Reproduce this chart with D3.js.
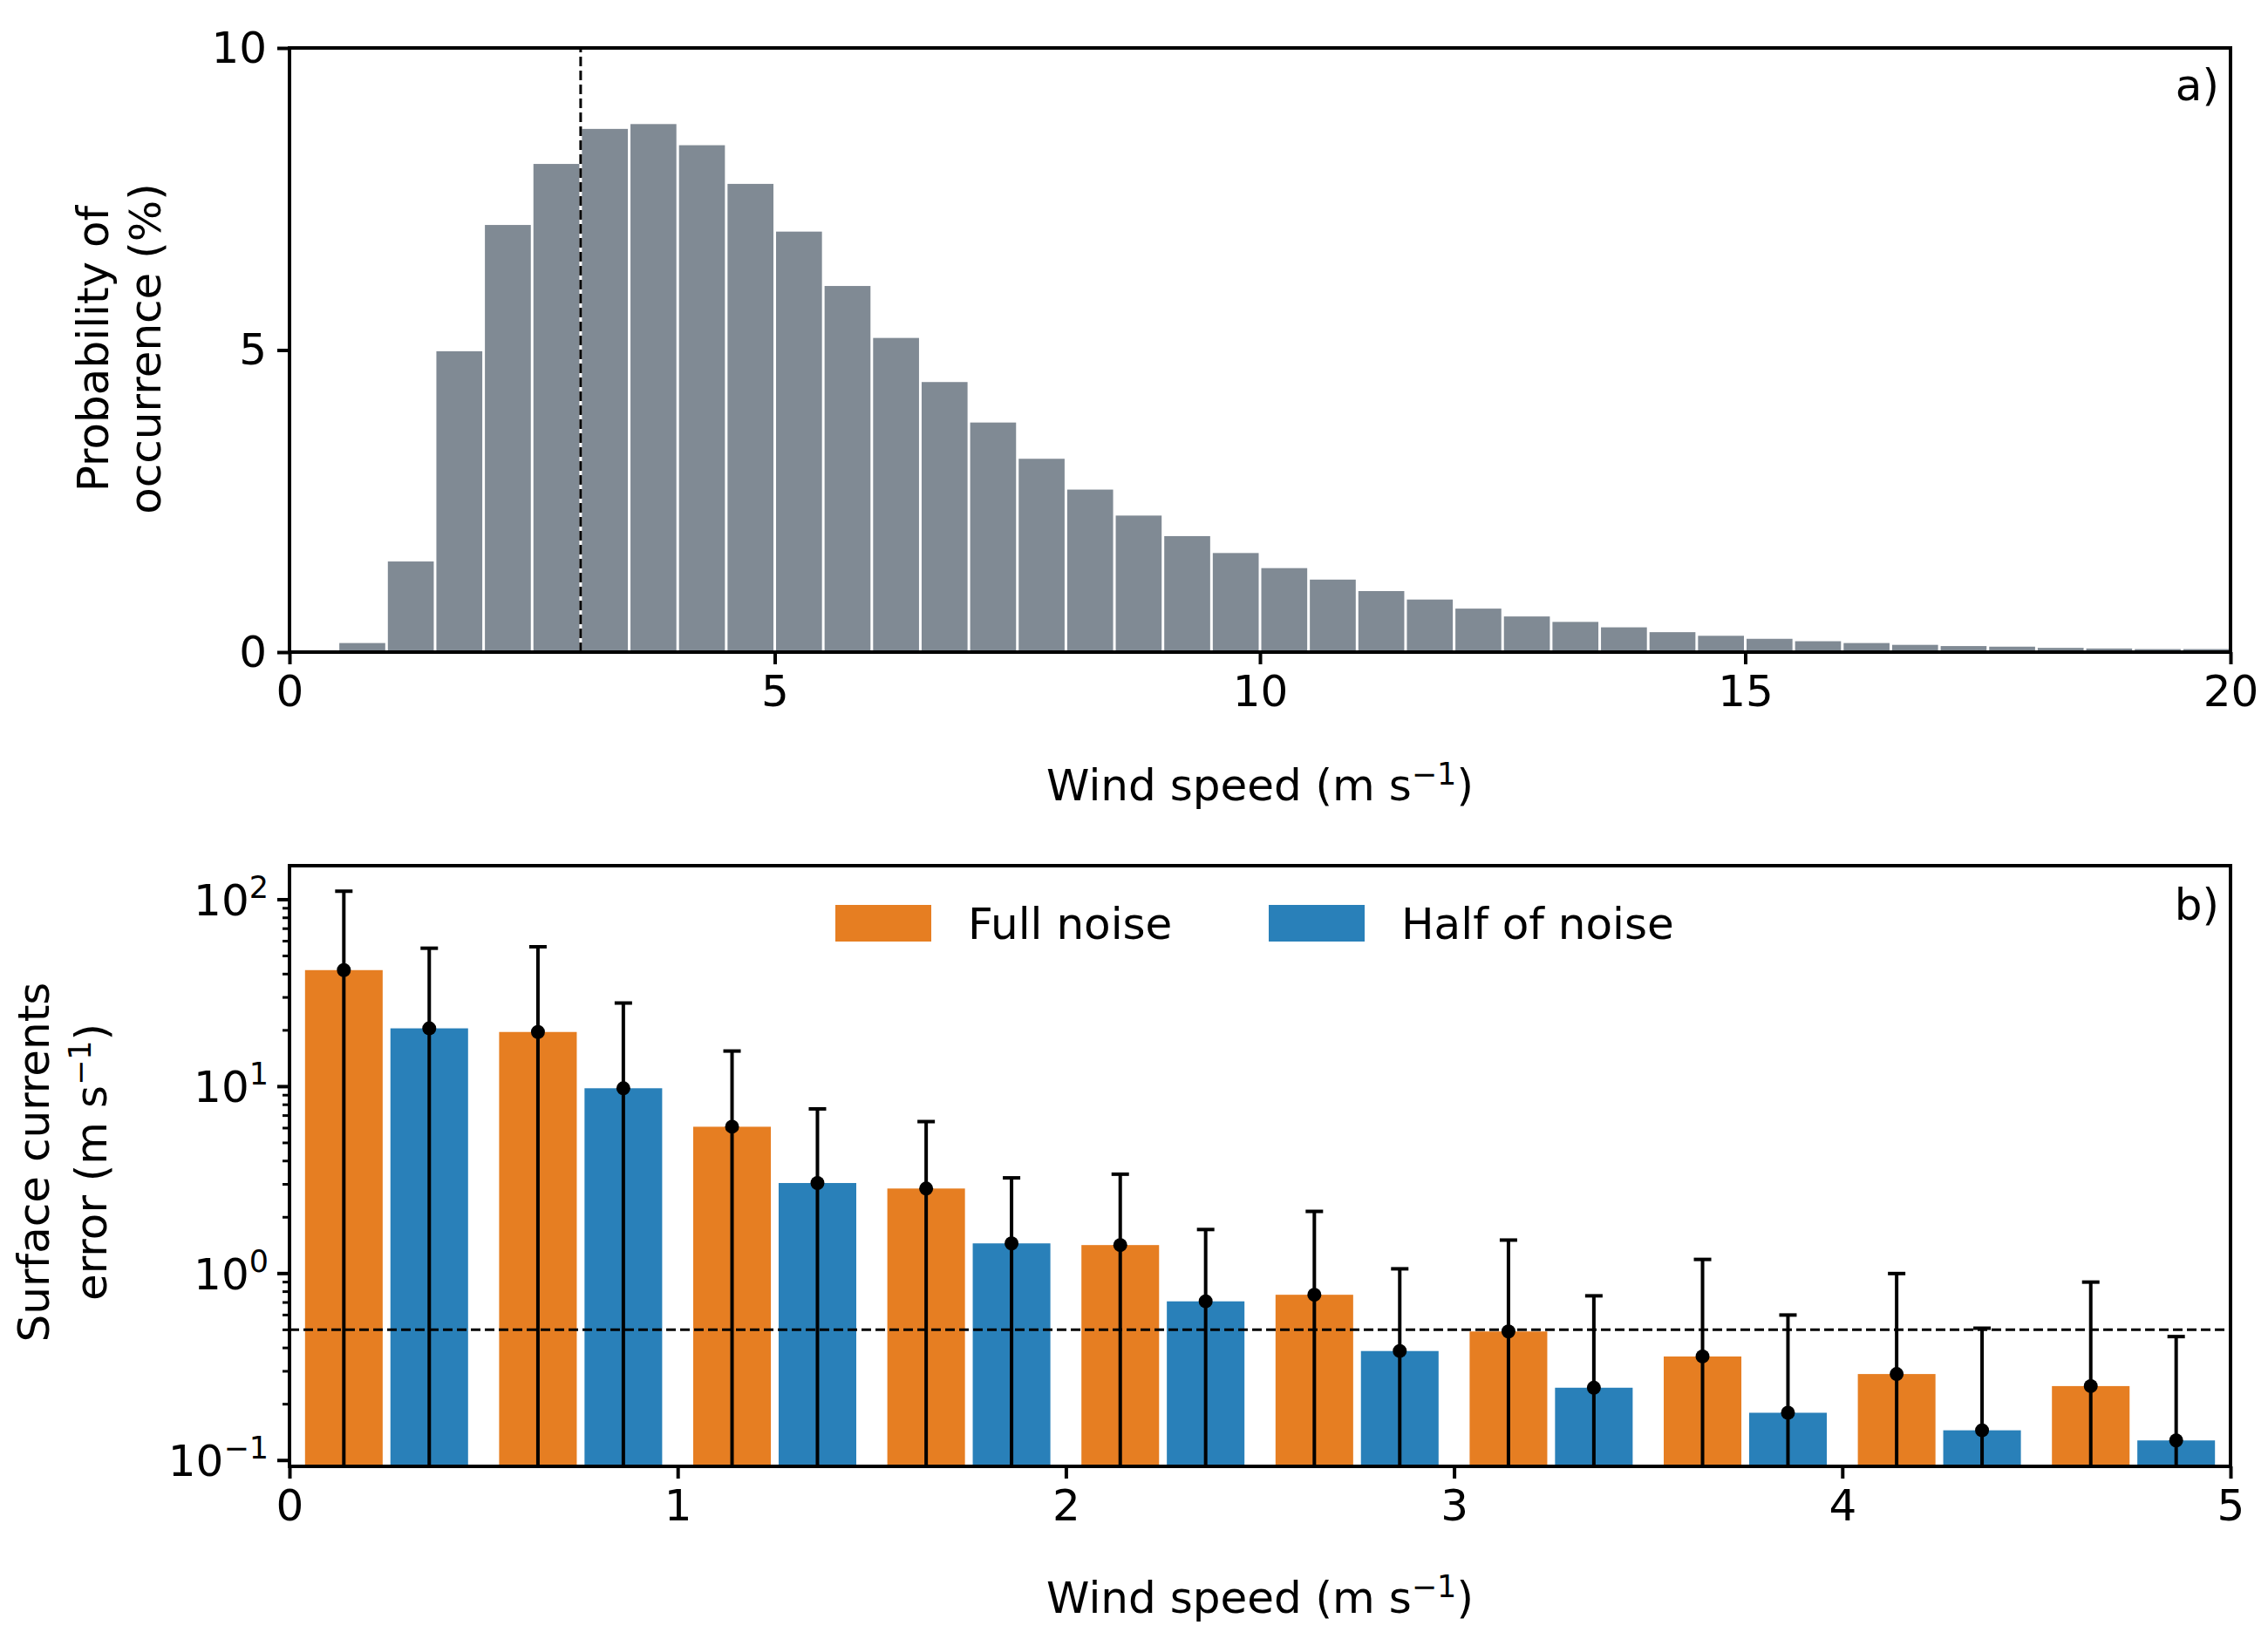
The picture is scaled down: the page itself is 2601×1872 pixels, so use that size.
<!DOCTYPE html><html><head><meta charset="utf-8">
<script src="https://cdn.jsdelivr.net/npm/d3@7"></script>
<style>body{margin:0;background:#fff}svg{font-family:"DejaVu Sans";}</style></head><body>
<svg id="c" width="2601" height="1872"></svg>
<script>
const binStarts = d3.range(0,20,0.5);
const probValues = [0.03,0.15,1.5,4.98,7.07,8.08,8.66,8.74,8.39,7.75,6.96,6.06,5.2,4.47,3.8,3.2,2.69,2.26,1.92,1.64,1.39,1.2,1.01,0.87,0.72,0.59,0.5,0.41,0.33,0.27,0.22,0.18,0.15,0.12,0.1,0.09,0.07,0.06,0.05,0.05];
const groupStarts = [0,0.5,1,1.5,2,2.5,3,3.5,4,4.5];
const fullNoise = [42,19.6,6.1,2.85,1.42,0.77,0.49,0.36,0.29,0.25];
const fullNoiseUpper = [111,56,15.5,6.5,3.4,2.15,1.51,1.19,1.0,0.9];
const halfNoise = [20.5,9.8,3.05,1.45,0.71,0.385,0.245,0.18,0.145,0.128];
const halfNoiseUpper = [55,28,7.6,3.25,1.72,1.06,0.76,0.6,0.51,0.46];
const yTicksA = [0,5,10], xTicksA = [0,5,10,15,20];
const yTicksB = [-1,0,1,2], xTicksB = [0,1,2,3,4,5];

const svg = d3.select("#c");
const FS = 50, SUP = 35;
const L=332,R=2558;
// Panel a
const xa = d3.scaleLinear().domain([0,20]).range([L,R]);
const ya = d3.scaleLinear().domain([0,10]).range([748,55]);
const ga = svg.append("g");
ga.selectAll("rect").data(probValues).join("rect")
 .attr("x",(d,i)=>xa(binStarts[i])+1.5).attr("width",(d,i)=>xa(binStarts[i]+0.5)-xa(binStarts[i])-3)
 .attr("y",d=>ya(d)).attr("height",d=>ya(0)-ya(d)).attr("fill","#808a94");
ga.append("line").attr("x1",xa(3)).attr("x2",xa(3)).attr("y1",ya(0)).attr("y2",ya(10))
 .attr("stroke","#000").attr("stroke-width",3).attr("stroke-dasharray","11,5");
ga.append("rect").attr("x",L).attr("y",ya(10)).attr("width",R-L).attr("height",ya(0)-ya(10)).attr("fill","none").attr("stroke","#000").attr("stroke-width",4);
const axA = svg.append("g").attr("transform",`translate(0,${ya(0)})`).call(d3.axisBottom(xa).tickValues(xTicksA).tickSize(14).tickPadding(12));
const ayA = svg.append("g").attr("transform",`translate(${L},0)`).call(d3.axisLeft(ya).tickValues(yTicksA).tickSize(14).tickPadding(12));
[axA,ayA].forEach(a=>{a.select(".domain").remove();a.selectAll("line").attr("stroke-width",4);a.selectAll("text").attr("font-size",FS).attr("font-family","DejaVu Sans").attr("fill","#000");});
svg.append("text").attr("x",2545).attr("y",115).attr("text-anchor","end").attr("font-size",FS).text("a)");
function xlabel(y){const t=svg.append("text").attr("x",(L+R)/2).attr("y",y).attr("text-anchor","middle").attr("font-size",FS);
 t.append("tspan").text("Wind speed (m s");t.append("tspan").attr("dy",-18).attr("font-size",SUP).text("−1");t.append("tspan").attr("dy",18).text(")");}
xlabel(918);
const la = svg.append("text").attr("transform","translate(0,400) rotate(-90)").attr("text-anchor","middle").attr("font-size",FS);
la.append("tspan").attr("x",0).attr("y",124).text("Probability of");
la.append("tspan").attr("x",0).attr("y",184).text("occurrence (%)");

// Panel b
const T=993,B=1682;
const xb = d3.scaleLinear().domain([0,5]).range([L,R]);
const yb = d3.scaleLog().domain([0.093,152]).range([B,T]);
svg.append("clipPath").attr("id","cb").append("rect").attr("x",L).attr("y",T).attr("width",R-L).attr("height",B-T);
const gb = svg.append("g").attr("clip-path","url(#cb)");
const series=[{v:fullNoise,u:fullNoiseUpper,off:0.14,c:"#e67e22"},{v:halfNoise,u:halfNoiseUpper,off:0.36,c:"#2980b9"}];
series.forEach(s=>{
 gb.selectAll(null).data(s.v).join("rect").attr("x",(d,i)=>xb(groupStarts[i]+s.off-0.1)).attr("width",xb(0.2)-xb(0))
  .attr("y",d=>yb(d)).attr("height",d=>B+20-yb(d)).attr("fill",s.c);
});
gb.append("line").attr("x1",L).attr("x2",R).attr("y1",yb(0.5)).attr("y2",yb(0.5)).attr("stroke","#000").attr("stroke-width",3).attr("stroke-dasharray","11,5");
series.forEach(s=>{
 s.v.forEach((d,i)=>{const cx=xb(groupStarts[i]+s.off);
  gb.append("line").attr("x1",cx).attr("x2",cx).attr("y1",yb(s.u[i])).attr("y2",B+20).attr("stroke","#000").attr("stroke-width",4);
  gb.append("line").attr("x1",cx-10).attr("x2",cx+10).attr("y1",yb(s.u[i])).attr("y2",yb(s.u[i])).attr("stroke","#000").attr("stroke-width",4);
  gb.append("circle").attr("cx",cx).attr("cy",yb(d)).attr("r",8).attr("fill","#000");});
});
svg.append("rect").attr("x",L).attr("y",T).attr("width",R-L).attr("height",B-T).attr("fill","none").attr("stroke","#000").attr("stroke-width",4);
const axB = svg.append("g").attr("transform",`translate(0,${B})`).call(d3.axisBottom(xb).tickValues(xTicksB).tickFormat(d3.format("d")).tickSize(14).tickPadding(12));
axB.select(".domain").remove();axB.selectAll("line").attr("stroke-width",4);axB.selectAll("text").attr("font-size",FS).attr("font-family","DejaVu Sans").attr("fill","#000");
const minor=[];[-2,-1,0,1,2].forEach(e=>{for(let k=2;k<10;k++){const v=k*Math.pow(10,e);if(v>0.093&&v<152)minor.push(v);}});
const gy=svg.append("g");
gy.selectAll(".mn").data(minor).join("line").attr("x1",L).attr("x2",L-8).attr("y1",d=>yb(d)).attr("y2",d=>yb(d)).attr("stroke","#000").attr("stroke-width",3);
yTicksB.forEach(e=>{const y=yb(Math.pow(10,e));
 gy.append("line").attr("x1",L).attr("x2",L-14).attr("y1",y).attr("y2",y).attr("stroke","#000").attr("stroke-width",4);
 const t=gy.append("text").attr("x",L-24).attr("y",y+18).attr("text-anchor","end").attr("font-size",FS);
 t.append("tspan").text("10");t.append("tspan").attr("dy",-20).attr("font-size",SUP).text(e<0?"−"+(-e):String(e));});
svg.append("text").attr("x",2545).attr("y",1055).attr("text-anchor","end").attr("font-size",FS).text("b)");
const leg=[["Full noise","#e67e22",958],["Half of noise","#2980b9",1455]];
leg.forEach(l=>{svg.append("rect").attr("x",l[2]).attr("y",1038).attr("width",110).attr("height",42).attr("fill",l[1]);
 svg.append("text").attr("x",l[2]+152).attr("y",1077).attr("font-size",FS).text(l[0]);});
xlabel(1850);
const lb = svg.append("text").attr("transform","translate(0,1333) rotate(-90)").attr("text-anchor","middle").attr("font-size",FS);
lb.append("tspan").attr("x",0).attr("y",56).text("Surface currents");
lb.append("tspan").attr("x",0).attr("y",122).text("error (m s");
lb.append("tspan").attr("dy",-18).attr("font-size",SUP).text("−1");lb.append("tspan").attr("dy",18).text(")");
</script></body></html>
